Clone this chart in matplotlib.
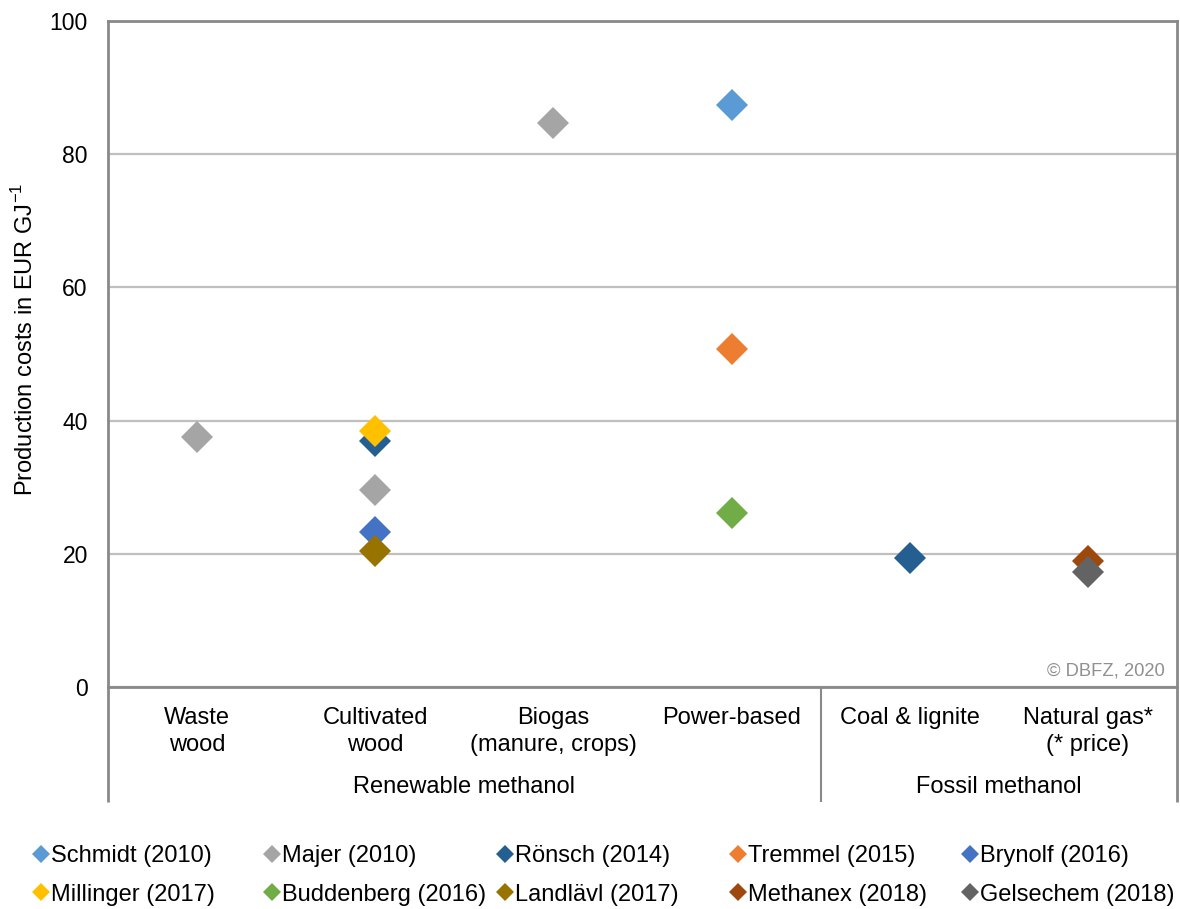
import numpy as np
import matplotlib
matplotlib.use("Agg")
import matplotlib.pyplot as plt
from matplotlib.lines import Line2D

plt.rcParams['font.family'] = ['Liberation Sans', 'DejaVu Sans']

categories = ["Waste\nwood", "Cultivated\nwood", "Biogas\n(manure, crops)", "Power-based",
              "Coal & lignite", "Natural gas*\n(* price)"]
groups = ["Renewable methanol", "Fossil methanol"]
group_sizes = [4, 2]

nan = np.nan
series_names = ["Schmidt (2010)", "Majer (2010)", "Rönsch (2014)", "Tremmel (2015)", "Brynolf (2016)",
                "Millinger (2017)", "Buddenberg (2016)", "Landlävl (2017)", "Methanex (2018)", "Gelsechem (2018)"]
schmidt    = [nan, nan, nan, 87.4, nan, nan]
majer      = [37.6, 29.6, 84.7, nan, nan, nan]
roensch    = [nan, 37.0, nan, nan, 19.4, nan]
tremmel    = [nan, nan, nan, 50.8, nan, nan]
brynolf    = [nan, 23.2, nan, nan, nan, nan]
millinger  = [nan, 38.5, nan, nan, nan, nan]
buddenberg = [nan, nan, nan, 26.1, nan, nan]
landlaevl  = [nan, 20.4, nan, nan, nan, nan]
methanex   = [nan, nan, nan, nan, nan, 18.9]
gelsechem  = [nan, nan, nan, nan, nan, 17.2]
series_values = [schmidt, majer, roensch, tremmel, brynolf, millinger, buddenberg, landlaevl, methanex, gelsechem]
colors = ["#5B9BD5", "#A5A5A5", "#255E91", "#ED7D31", "#4472C4",
          "#FFC000", "#70AD47", "#997300", "#9E480E", "#636363"]
yticks = [0, 20, 40, 60, 80, 100]

W, H = 1180, 909
fig = plt.figure(figsize=(W / 100, H / 100), dpi=100)
L, R, T, B = 108, 1177, 21, 687
ax = fig.add_axes([L / W, 1 - B / H, (R - L) / W, (B - T) / H])

x = np.arange(len(categories)) + 0.5
for name, vals, c in zip(series_names, series_values, colors):
    ax.plot(x, vals, linestyle='none', marker='D', markersize=16.5, color=c,
            markeredgewidth=0, label=name, clip_on=False, zorder=3)

ax.set_xlim(0, len(categories))
ax.set_ylim(0, 100)
ax.set_yticks(yticks)
ax.set_xticks([])
ax.yaxis.grid(True, color="#BFBFBF", linewidth=1.6)
ax.set_axisbelow(True)
ax.tick_params(axis='y', length=0, labelsize=16.5, pad=14.5)
spine_c = "#898989"
for s in ['left', 'right', 'bottom', 'top']:
    ax.spines[s].set_color(spine_c)
    ax.spines[s].set_linewidth(2)

fig.text(25 / W, 1 - 339 / H, "Production costs in EUR GJ$^{\\mathregular{-1}}$", rotation=90,
         ha='center', va='center', fontsize=17)

# lower category area
lower_px = 802
depth = (lower_px - B) / (B - T)  # in axes fraction
trans = ax.get_xaxis_transform()
bounds = [0, group_sizes[0], len(categories)]
for xb in bounds:
    ax.plot([xb, xb], [0, -depth], transform=trans, color=spine_c, linewidth=2 if xb != group_sizes[0] else 1.5,
            clip_on=False, solid_capstyle='butt')
for xi, lab in zip(x, categories):
    ax.text(xi, -(707 - B) / (B - T), lab, transform=trans, ha='center', va='top',
            fontsize=17, linespacing=1.3)
start = 0
for g, n in zip(groups, group_sizes):
    ax.text(start + n / 2, -(787 - B) / (B - T), g, transform=trans, ha='center', va='center', fontsize=17)
    start += n

ax.text(1165 / W, 1 - 671 / H, "© DBFZ, 2020", transform=fig.transFigure, ha='right', va='center',
        fontsize=13.2, color="#909090")

# legend: 5 columns x 2 rows
col_x = [41, 272, 505, 738, 970]
for ci, cx in enumerate(col_x):
    hs = [Line2D([], [], linestyle='none', marker='D', markersize=9, color=colors[ci + r * 5], markeredgewidth=0)
          for r in range(2)]
    ls = [series_names[ci + r * 5] for r in range(2)]
    fig.legend(hs, ls, loc='upper left', bbox_to_anchor=((cx - 8) / W, 1 - 845 / H),
               frameon=False, fontsize=17, handlelength=0.65, handletextpad=0.1,
               borderpad=0, borderaxespad=0, labelspacing=0.7)

fig.savefig("out.png", dpi=100)
